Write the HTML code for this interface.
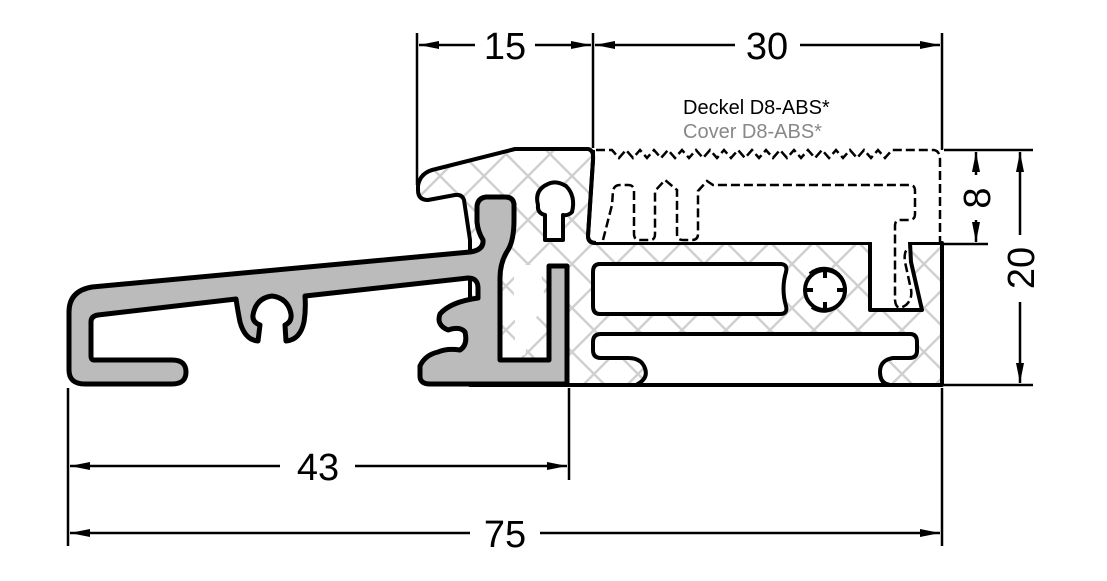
<!DOCTYPE html>
<html><head><meta charset="utf-8"><style>
html,body{margin:0;padding:0;background:#fff;}
svg{display:block;}
text{font-family:"Liberation Sans",sans-serif;}
</style></head><body>
<svg width="1107" height="581" viewBox="0 0 1107 581" xmlns="http://www.w3.org/2000/svg">
<defs>
<pattern id="h" width="44" height="44" patternUnits="userSpaceOnUse" x="0" y="0">
<path d="M0,0 L44,44 M44,0 L0,44" stroke="#d0d0d0" stroke-width="2.5"/>
</pattern>
<marker id="a" viewBox="0 0 20 8" refX="20" refY="4" markerWidth="20" markerHeight="8" orient="auto" markerUnits="userSpaceOnUse">
<path d="M0,0 L20,4 L0,8 Z" fill="#000"/>
</marker>
</defs>

<path d="M418,186 Q420,172 436,169 L515,149 L588,149 Q594,150 593,160 L588,236 Q588,243 596,243 L870,243 L870,310 L922,310 L911,262 L910,243 L942,243 L942,385 L470,385 L470,240 L464,200 Q462,194 455,195 L428,200 Q418,200 418,190 Z" fill="#fff"/>
<path d="M418,186 Q420,172 436,169 L515,149 L588,149 Q594,150 593,160 L588,236 Q588,243 596,243 L870,243 L870,310 L922,310 L911,262 L910,243 L942,243 L942,385 L470,385 L470,240 L464,200 Q462,194 455,195 L428,200 Q418,200 418,190 Z" fill="url(#h)" stroke="#000" stroke-width="4" stroke-linejoin="round"/>

<path d="M600,264 L780,264 Q788,264 786,272 Q781,289 786,306 Q788,314 780,314 L600,314 Q593,314 593,306 L593,272 Q593,264 600,264 Z" fill="#fff" stroke="#000" stroke-width="4"/>
<path d="M636,385 Q650,378 644,366 Q640,358 628,358 L601,358 Q593,358 593,350 L593,342 Q593,334 601,334 L910,334 Q917,334 917,342 L917,351 Q917,358 909,358 L893,358 Q880,360 880,372 Q880,385 892,385 Z" fill="#fff" stroke="#000" stroke-width="4" stroke-linejoin="round"/>
<path d="M568,385 L942,385" stroke="#000" stroke-width="4"/>
<path d="M810,274 A21,21 0 1 1 812,307" fill="#fff" stroke="#000" stroke-width="4"/>
<circle cx="825" cy="290" r="20" fill="#fff" stroke="#000" stroke-width="4"/>
<path d="M825,270 L825,278 M845,290 L837,290 M825,310 L825,302 M805,290 L813,290" stroke="#000" stroke-width="4"/>
<path d="M545,240 L545,215 Q537,213 538,205 Q534,190 548,184 Q556,180 566,186 Q576,196 572,212 Q568,216 563,215 L563,240 Z" fill="#fff" stroke="#000" stroke-width="4" stroke-linejoin="round"/>
<path d="M520,265 L540,265 L545,300 L530,330 L525,355 L515,355 L515,300 Q512,290 515,270 Z" fill="#fff"/>

<path d="M596,150 L596,242 L940,242 L940,150 Z" fill="#fff"/>
<path d="M596,150 L612,150 L619,158 L626,150 L633,158 L640,150 L647,158 L654,150 L661,158 L668,150 L675,158 L682,150 L689,158 L696,150 L703,158 L710,150 L717,158 L724,150 L731,158 L738,150 L745,158 L752,150 L759,158 L766,150 L773,158 L780,150 L787,158 L794,150 L801,158 L808,150 L815,158 L822,150 L829,158 L836,150 L843,158 L850,150 L857,158 L864,150 L871,158 L878,150 L885,158 L892,150 L899,150 L934,150 Q940,151 940,160 L940,243" fill="none" stroke="#000" stroke-width="2.5" stroke-dasharray="9,4"/>
<path d="M603,240 L612,205 L613,191 Q614,185 620,185 L628,185 Q634,185 634,191 L634,234 Q634,240 640,240 L650,240 Q655,240 655,234 L655,191 L665,180 L677,190 L677,234 Q677,240 683,240 L692,240 Q698,240 698,234 L698,191 L707,181 L713,185 L910,185 Q915,185 915,191 L915,214 Q915,220 909,220 L900,220 Q895,220 895,226 L895,300 Q896,312 906,305 Q914,298 910,285 L905,262 Q903,248 912,247" fill="none" stroke="#000" stroke-width="2.5" stroke-dasharray="9,4"/>
<path d="M593,150 L593,160 L588,236 Q588,243 596,243" fill="none" stroke="#000" stroke-width="4"/>
<path d="M942,243 L942,385" stroke="#000" stroke-width="4"/>

<path d="M85,384 L172,384 Q186,384 186,372 Q186,360 172,360 L94,360 Q91,360 91,356 L91,322 Q91,316 98,315 L236,299 Q238,312 240,322 Q245,340 258,341 L260,325 Q252,322 253,315 Q256,298 272,296 Q288,298 291,314 Q292,322 285,325 L286,341 Q300,340 304,322 Q306,310 305,296 L468,278 Q478,278 478,288 L478,298 Q450,302 440,314 Q436,325 448,330 Q460,326 465,332 Q468,345 460,350 Q447,348 438,352 Q425,355 420,366 L420,376 Q420,384 430,384 L567,384 L567,266 L549,266 L549,360 L500,360 L500,278 Q500,262 508,250 Q514,240 514,220 L514,204 Q513,197 505,197 L486,197 Q478,198 477,206 L477,222 Q478,232 483,240 Q484,250 470,252 L92,287 Q69,291 69,312 L69,370 Q69,384 85,384 Z" fill="#bbb" stroke="#000" stroke-width="5" stroke-linejoin="round"/>

<g stroke="#000" stroke-width="2.5" fill="none">
<path d="M417,33 L417,185"/>
<path d="M593,33 L593,148"/>
<path d="M942,33 L942,150"/>
<path d="M68,388 L68,546"/>
<path d="M569,388 L569,480"/>
<path d="M942,388 L942,546"/>
<path d="M944,150 L1033,150"/>
<path d="M944,244 L988,244"/>
<path d="M944,385 L1033,385"/>
<path d="M475,45 L419,45" marker-end="url(#a)"/>
<path d="M535,45 L591,45" marker-end="url(#a)"/>
<path d="M735,45 L595,45" marker-end="url(#a)"/>
<path d="M800,45 L940,45" marker-end="url(#a)"/>
<path d="M280,466 L70,466" marker-end="url(#a)"/>
<path d="M355,466 L567,466" marker-end="url(#a)"/>
<path d="M470,533 L70,533" marker-end="url(#a)"/>
<path d="M540,533 L940,533" marker-end="url(#a)"/>
<path d="M976,175 L976,152" marker-end="url(#a)"/>
<path d="M976,220 L976,242" marker-end="url(#a)"/>
<path d="M1020,235 L1020,152" marker-end="url(#a)"/>
<path d="M1020,302 L1020,383" marker-end="url(#a)"/>
</g>

<text x="505" y="59" font-size="38" text-anchor="middle">15</text>
<text x="767" y="59" font-size="38" text-anchor="middle">30</text>
<text x="318" y="480" font-size="38" text-anchor="middle">43</text>
<text x="505" y="547" font-size="38" text-anchor="middle">75</text>
<text transform="translate(990,198) rotate(-90)" font-size="38" text-anchor="middle">8</text>
<text transform="translate(1034,268) rotate(-90)" font-size="38" text-anchor="middle">20</text>
<text x="683" y="114" font-size="20" fill="#000">Deckel D8-ABS*</text>
<text x="683" y="138" font-size="20" fill="#888">Cover D8-ABS*</text>
</svg>
</body></html>
